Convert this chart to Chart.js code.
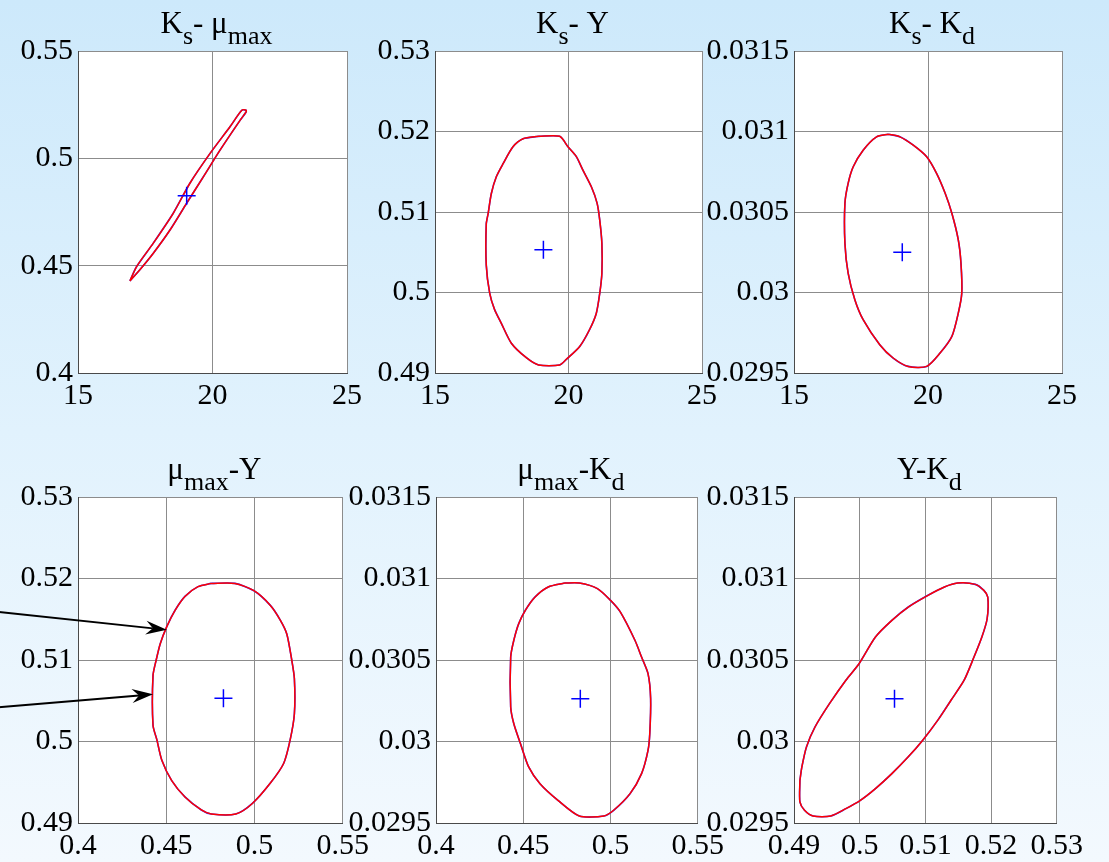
<!DOCTYPE html>
<html>
<head>
<meta charset="utf-8">
<script src="https://cdn.jsdelivr.net/npm/chart.js@4.4.0/dist/chart.umd.min.js"></script>
<style>
  html, body { margin: 0; padding: 0; }
  body {
    width: 1109px; height: 862px; overflow: hidden; position: relative;
    background: linear-gradient(to bottom, #cde9fb 0%, #e1f2fd 50%, #f3f9fe 100%);
  }
  canvas { position: absolute; }
</style>
</head>
<body>
<canvas id="g1"></canvas>
<canvas id="g2"></canvas>
<canvas id="g3"></canvas>
<canvas id="g4"></canvas>
<canvas id="g5"></canvas>
<canvas id="g6"></canvas>
<script>
// =============================================
//  DADOS
// =============================================
const ticksKs  = [15, 20, 25];
const ticksMu  = [0.4, 0.45, 0.5, 0.55];
const ticksY   = [0.49, 0.5, 0.51, 0.52, 0.53];
const ticksKd  = [0.0295, 0.03, 0.0305, 0.031, 0.0315];
const labelsKs = ['15', '20', '25'];
const labelsMu = ['0.4', '0.45', '0.5', '0.55'];
const labelsY  = ['0.49', '0.5', '0.51', '0.52', '0.53'];
const labelsKd = ['0.0295', '0.03', '0.0305', '0.031', '0.0315'];

// contornos de confiança [x, y]
const contornoKsMu = [
  [16.93, 0.4429], [17.18, 0.4496], [17.80, 0.4605], [18.54, 0.4744], [19.16, 0.4884],
  [19.91, 0.5023], [20.65, 0.5147], [21.09, 0.5224], [21.25, 0.5224], [21.25, 0.5216],
  [21.03, 0.5178], [20.28, 0.5038], [19.66, 0.4914], [19.04, 0.4791], [18.42, 0.4666],
  [17.80, 0.4558], [17.30, 0.4481], [16.93, 0.4429]
];
const contornoKsY = [
  [18.88, 0.5194], [18.30, 0.5191], [17.92, 0.5181], [17.55, 0.5160], [17.30, 0.5144],
  [17.11, 0.5123], [16.99, 0.5098], [16.92, 0.5085], [16.92, 0.5034], [17.05, 0.4999],
  [17.23, 0.4979], [17.48, 0.4962], [17.86, 0.4937], [18.42, 0.4919], [18.88, 0.4910],
  [19.67, 0.4910], [19.92, 0.4917], [20.42, 0.4933], [20.79, 0.4954], [21.04, 0.4974],
  [21.17, 0.4999], [21.25, 0.5024], [21.25, 0.5061], [21.17, 0.5090], [21.07, 0.5111],
  [20.86, 0.5131], [20.54, 0.5152], [20.29, 0.5169], [19.98, 0.5181], [19.67, 0.5194],
  [18.88, 0.5194]
];
const contornoKsKd = [
  [18.52, 0.030983], [18.08, 0.030967], [17.58, 0.030884], [17.21, 0.030781], [17.02, 0.030678],
  [16.90, 0.030554], [16.90, 0.030306], [17.02, 0.030120], [17.27, 0.029955], [17.58, 0.029831],
  [18.20, 0.029676], [18.70, 0.029593], [19.26, 0.029541], [19.95, 0.029541], [20.45, 0.029624],
  [20.89, 0.029727], [21.13, 0.029872], [21.26, 0.029996], [21.23, 0.030182], [21.13, 0.030327],
  [20.89, 0.030492], [20.64, 0.030616], [20.32, 0.030740], [19.95, 0.030843], [19.45, 0.030915],
  [18.95, 0.030967], [18.52, 0.030983]
];
const contornoMuY = [
  [0.4755, 0.5194], [0.4680, 0.5190], [0.4606, 0.5178], [0.4550, 0.5161], [0.4503, 0.5141],
  [0.4466, 0.5120], [0.4443, 0.5100], [0.4425, 0.5081], [0.4425, 0.5020], [0.4447, 0.5002],
  [0.4475, 0.4977], [0.4531, 0.4952], [0.4606, 0.4932], [0.4699, 0.4916], [0.4755, 0.4911],
  [0.4894, 0.4911], [0.4988, 0.4924], [0.5090, 0.4949], [0.5165, 0.4973], [0.5202, 0.5002],
  [0.5226, 0.5034], [0.5226, 0.5077], [0.5211, 0.5100], [0.5183, 0.5132], [0.5146, 0.5149],
  [0.5090, 0.5167], [0.4997, 0.5185], [0.4889, 0.5194], [0.4755, 0.5194]
];
const contornoMuKd = [
  [0.4737, 0.030972], [0.4643, 0.030948], [0.4568, 0.030887], [0.4512, 0.030805], [0.4474, 0.030723],
  [0.4446, 0.030621], [0.4428, 0.030518], [0.4428, 0.030212], [0.4446, 0.030109], [0.4484, 0.029987],
  [0.4531, 0.029844], [0.4596, 0.029741], [0.4699, 0.029639], [0.4821, 0.029543], [0.4962, 0.029543],
  [0.5018, 0.029578], [0.5112, 0.029680], [0.5178, 0.029803], [0.5215, 0.029946], [0.5225, 0.030048],
  [0.5230, 0.030263], [0.5215, 0.030416], [0.5178, 0.030518], [0.5140, 0.030621], [0.5056, 0.030795],
  [0.5000, 0.030866], [0.4925, 0.030938], [0.4821, 0.030972], [0.4737, 0.030972]
];
const contornoYKd = [
  [0.4909, 0.029762], [0.4909, 0.029629], [0.4916, 0.029578], [0.4929, 0.029543], [0.4956, 0.029543],
  [0.4979, 0.029588], [0.5001, 0.029639], [0.5024, 0.029711], [0.5049, 0.029803], [0.5074, 0.029906],
  [0.5096, 0.030008], [0.5119, 0.030131], [0.5139, 0.030253], [0.5159, 0.030376], [0.5174, 0.030518],
  [0.5186, 0.030641], [0.5194, 0.030753], [0.5195, 0.030886], [0.5189, 0.030927], [0.5176, 0.030964],
  [0.5149, 0.030972], [0.5129, 0.030948], [0.5104, 0.030897], [0.5074, 0.030825], [0.5049, 0.030743],
  [0.5024, 0.030641], [0.4999, 0.030477], [0.4979, 0.030376], [0.4954, 0.030232], [0.4932, 0.030089],
  [0.4919, 0.029967], [0.4912, 0.029844], [0.4909, 0.029762]
];

// estimativas (centro)
const centroKsMu = [19.04, 0.4826];
const centroKsY  = [19.06, 0.5053];
const centroKsKd = [19.04, 0.03025];
const centroMuY  = [0.4824, 0.5053];
const centroMuKd = [0.4827, 0.030263];
const centroYKd  = [0.5053, 0.030263];

// setas do gráfico μmax-Y (origem -> ponta)
const setasOrigem = [[0.35, 0.5160], [0.35, 0.5041]];
const setasPonta  = [[0.4503, 0.5137], [0.4425, 0.5058]];

// =============================================
//  PLUGINS
// =============================================
const fundoBranco = {
  id: 'fundoBranco',
  beforeDraw(chart) {
    const a = chart.chartArea, ctx = chart.ctx;
    ctx.save();
    ctx.fillStyle = '#ffffff';
    ctx.fillRect(a.left, a.top, a.right - a.left, a.bottom - a.top);
    ctx.restore();
  }
};

// título com subscritos (Chart.js não faz subscrito no title)
const tituloSub = {
  id: 'tituloSub',
  afterDraw(chart, args, opts) {
    const partes = opts.partes || [];
    const ctx = chart.ctx, a = chart.chartArea;
    const fN = '31px "Liberation Serif"', fS = '26px "Liberation Serif"';
    ctx.save();
    let total = 0;
    partes.forEach(p => { ctx.font = p[1] ? fS : fN; total += ctx.measureText(p[0]).width; });
    let x = (a.left + a.right) / 2 - total / 2 + 4;
    const base = a.top - 18;
    ctx.fillStyle = '#000';
    ctx.textAlign = 'left';
    ctx.textBaseline = 'alphabetic';
    partes.forEach(p => {
      ctx.font = p[1] ? fS : fN;
      ctx.fillText(p[0], x, base + (p[1] ? 11 : 0));
      x += ctx.measureText(p[0]).width;
    });
    ctx.restore();
  }
};

const setas = {
  id: 'setas',
  afterDraw(chart) {
    const ctx = chart.ctx, sx = chart.scales.x, sy = chart.scales.y;
    ctx.save();
    ctx.strokeStyle = '#000';
    ctx.fillStyle = '#000';
    ctx.lineWidth = 2;
    setasOrigem.forEach((o, i) => {
      const x0 = sx.getPixelForValue(o[0]), y0 = sy.getPixelForValue(o[1]);
      const x1 = sx.getPixelForValue(setasPonta[i][0]), y1 = sy.getPixelForValue(setasPonta[i][1]);
      const ang = Math.atan2(y1 - y0, x1 - x0);
      const comp = 21, larg = 7, entalhe = 14;
      const bx = x1 - entalhe * Math.cos(ang), by = y1 - entalhe * Math.sin(ang);
      ctx.beginPath();
      ctx.moveTo(x0, y0);
      ctx.lineTo(bx, by);
      ctx.stroke();
      ctx.beginPath();
      ctx.moveTo(x1, y1);
      ctx.lineTo(x1 - comp * Math.cos(ang) + larg * Math.sin(ang), y1 - comp * Math.sin(ang) - larg * Math.cos(ang));
      ctx.lineTo(bx, by);
      ctx.lineTo(x1 - comp * Math.cos(ang) - larg * Math.sin(ang), y1 - comp * Math.sin(ang) + larg * Math.cos(ang));
      ctx.closePath();
      ctx.fill();
    });
    ctx.restore();
  }
};

// =============================================
//  GRÁFICOS
// =============================================
function eixo(valores, rotulos, qual) {
  return {
    type: 'linear',
    position: qual === 'x' ? 'bottom' : 'left',
    min: valores[0],
    max: valores[valores.length - 1],
    afterBuildTicks: s => { s.ticks = valores.map(v => ({ value: v })); },
    afterFit: s => { if (qual === 'x') s.height = 42; else s.width = 100; },
    grid: { color: '#8c8c8c', lineWidth: 1, drawTicks: false },
    border: { color: '#4a4a4a', width: 1 },
    ticks: {
      autoSkip: false, maxRotation: 0, minRotation: 0,
      padding: qual === 'x' ? 8 : 5,
      color: '#000',
      font: { family: '"Liberation Serif"', size: 30, lineHeight: 1 },
      callback: (v, i) => rotulos[i]
    }
  };
}

function criarGrafico(id, box, xT, xL, yT, yL, contorno, centro, titulo, extras) {
  const cv = document.getElementById(id);
  cv.width  = (box.r - box.l) + 130;
  cv.height = (box.b - box.t) + 94;
  cv.style.left = (box.l - 100) + 'px';
  cv.style.top  = (box.t - 50) + 'px';
  const pts = contorno.map(p => ({ x: p[0], y: p[1] }));

  return new Chart(cv, {
    type: 'scatter',
    data: {
      datasets: [
        { data: [{ x: centro[0], y: centro[1] }], pointStyle: 'cross', pointRadius: 9,
          borderColor: '#0000ff', backgroundColor: '#0000ff', borderWidth: 1.5 },
        { data: pts, showLine: true, borderColor: '#ff0000', borderWidth: 1.5, pointRadius: 0, tension: 0.25 },
        { data: pts, showLine: true, borderColor: '#2a2aff', borderWidth: 1.6, pointRadius: 0, tension: 0.25 }
      ]
    },
    options: {
      responsive: false,
      animation: false,
      devicePixelRatio: 1,
      layout: { padding: { left: 0, top: 50, right: 30, bottom: 2 } },
      plugins: {
        legend: { display: false },
        tooltip: { enabled: false },
        tituloSub: { partes: titulo }
      },
      scales: {
        x: eixo(xT, xL, 'x'),
        y: eixo(yT, yL, 'y')
      }
    },
    plugins: [fundoBranco, tituloSub].concat(extras || [])
  });
}

criarGrafico('g1', { l: 78, t: 51, r: 347, b: 373 }, ticksKs, labelsKs, ticksMu, labelsMu,
  contornoKsMu, centroKsMu, [['K', 0], ['s', 1], ['- μ', 0], ['max', 1]]);
criarGrafico('g2', { l: 435, t: 51, r: 702, b: 373 }, ticksKs, labelsKs, ticksY, labelsY,
  contornoKsY, centroKsY, [['K', 0], ['s', 1], ['- Y', 0]]);
criarGrafico('g3', { l: 794, t: 51, r: 1062, b: 373 }, ticksKs, labelsKs, ticksKd, labelsKd,
  contornoKsKd, centroKsKd, [['K', 0], ['s', 1], ['- K', 0], ['d', 1]]);
criarGrafico('g4', { l: 78, t: 497, r: 347, b: 823 }, ticksMu, labelsMu, ticksY, labelsY,
  contornoMuY, centroMuY, [['μ', 0], ['max', 1], ['-Y', 0]], [setas]);
criarGrafico('g5', { l: 436, t: 497, r: 702, b: 823 }, ticksMu, labelsMu, ticksKd, labelsKd,
  contornoMuKd, centroMuKd, [['μ', 0], ['max', 1], ['-K', 0], ['d', 1]]);
criarGrafico('g6', { l: 794, t: 497, r: 1061, b: 823 }, ticksY, labelsY, ticksKd, labelsKd,
  contornoYKd, centroYKd, [['Y-K', 0], ['d', 1]]);
</script>
</body>
</html>
